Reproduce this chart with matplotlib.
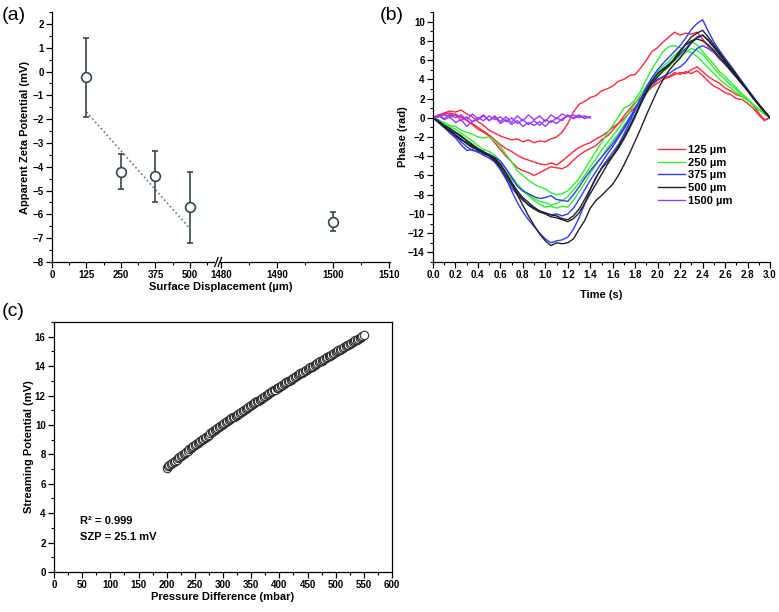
import matplotlib
matplotlib.use("Agg")
import matplotlib.pyplot as plt
from matplotlib.ticker import MultipleLocator, FixedLocator, FormatStrFormatter

# ---------------- data ----------------
# (a) apparent zeta potential vs surface displacement
disp_near = [125, 250, 375, 500]
zeta_near = [-0.25, -4.2, -4.4, -5.7]
zeta_near_err = [1.65, 0.75, 1.07, 1.5]
disp_far = [1500]
zeta_far = [-6.3]
zeta_far_err = [0.4]
fit_x = [125, 500]
fit_y = [-1.7, -6.6]

# (b) phase traces
time = [0.00, 0.05, 0.10, 0.15, 0.20, 0.25, 0.30, 0.35, 0.40, 0.45,
        0.50, 0.55, 0.60, 0.65, 0.70, 0.75, 0.80, 0.85, 0.90, 0.95,
        1.00, 1.05, 1.10, 1.15, 1.20, 1.25, 1.30, 1.35, 1.40, 1.45,
        1.50, 1.55, 1.60, 1.65, 1.70, 1.75, 1.80, 1.85, 1.90, 1.95,
        2.00, 2.05, 2.10, 2.15, 2.20, 2.25, 2.30, 2.35, 2.40, 2.45,
        2.50, 2.55, 2.60, 2.65, 2.70, 2.75, 2.80, 2.85, 2.90, 2.95, 3.00]

phase_125 = [
    [0.0, 0.3, 0.5, 0.7, 0.6, 0.8, 0.4, 0.1, -0.4, -0.8,
     -1.3, -1.6, -1.9, -2.1, -2.3, -2.2, -2.5, -2.3, -2.6, -2.4,
     -2.5, -2.2, -2.0, -1.5, -0.6, 0.6, 1.4, 1.7, 2.1, 2.3,
     2.8, 3.0, 3.3, 3.8, 4.0, 4.4, 4.5, 5.2, 6.0, 6.9,
     7.3, 7.9, 8.4, 8.9, 8.6, 8.8, 8.7, 8.9, 8.2, 7.4,
     6.9, 6.1, 5.6, 4.9, 4.3, 3.5, 2.9, 2.1, 1.3, 0.6, 0.0],
    [0.0, 0.2, 0.4, 0.5, 0.3, 0.1, -0.3, -0.6, -1.0, -1.4,
     -1.8, -2.3, -2.8, -3.2, -3.5, -3.9, -4.2, -4.4, -4.6, -4.8,
     -4.9, -4.7, -4.9, -4.5, -4.0, -3.5, -3.1, -2.8, -2.6, -2.2,
     -1.9, -1.5, -1.0, -0.6, -0.1, 0.5, 1.1, 1.9, 2.6, 3.2,
     3.6, 4.0, 4.2, 4.5, 4.7, 4.6, 5.0, 5.3, 4.8, 4.3,
     3.9, 3.6, 3.1, 2.8, 2.4, 2.2, 1.9, 1.3, 0.5, -0.2, 0.0],
    [0.0, 0.1, 0.3, 0.2, 0.4, 0.0, -0.2, -0.7, -1.2, -1.5,
     -1.9, -2.6, -3.3, -4.0, -4.6, -5.2, -5.5, -5.7, -6.0, -5.7,
     -5.4, -5.1, -5.2, -5.3, -5.0, -4.4, -3.9, -3.5, -3.2, -2.9,
     -2.3, -1.9, -1.3, -0.6, 0.2, 0.9, 1.6, 2.1, 2.7, 3.3,
     3.9, 4.2, 4.3, 4.7, 4.5, 4.8, 4.6, 4.9, 4.4, 3.8,
     3.3, 3.0, 2.6, 2.4, 2.0, 1.9, 1.5, 1.0, 0.3, -0.3, 0.0],
]
phase_250 = [
    [0.0, -0.3, -0.5, -0.8, -0.9, -1.3, -1.5, -1.7, -2.0, -2.1,
     -2.0, -2.4, -3.0, -3.8, -4.6, -5.5, -6.0, -6.5, -6.9, -7.2,
     -7.4, -7.8, -8.0, -7.9, -7.6, -7.0, -6.3, -5.4, -4.4, -3.5,
     -2.6, -1.6, -0.8, 0.1, 1.0, 1.3, 1.9, 2.8, 4.0, 5.1,
     6.0, 6.9, 7.4, 7.5, 7.3, 7.0, 6.8, 6.4, 5.8, 5.2,
     4.6, 4.0, 3.5, 3.1, 2.6, 2.2, 1.8, 1.4, 0.9, 0.4, 0.0],
    [0.0, -0.2, -0.6, -0.9, -1.2, -1.6, -2.0, -2.4, -2.9, -3.3,
     -3.5, -3.9, -4.5, -5.3, -6.1, -6.9, -7.5, -8.0, -8.4, -8.7,
     -8.8, -9.1, -8.9, -8.6, -8.2, -7.5, -6.8, -6.0, -5.1, -4.3,
     -3.4, -2.6, -1.9, -1.1, -0.3, 0.6, 1.5, 2.4, 3.3, 4.1,
     4.8, 5.4, 5.9, 6.5, 7.0, 7.6, 7.9, 7.6, 6.9, 6.2,
     5.6, 4.8, 4.3, 3.7, 3.1, 2.5, 2.0, 1.4, 0.9, 0.5, 0.0],
    [0.0, -0.4, -0.7, -1.1, -1.5, -1.8, -2.3, -2.7, -3.2, -3.6,
     -3.8, -4.4, -5.0, -5.7, -6.4, -7.0, -7.6, -8.1, -8.6, -9.0,
     -9.3, -9.2, -9.4, -9.2, -9.3, -8.6, -7.7, -6.8, -5.8, -4.9,
     -4.1, -3.2, -2.4, -1.7, -0.8, 0.0, 0.8, 1.7, 2.6, 3.4,
     4.2, 4.8, 5.3, 5.9, 6.4, 6.8, 7.2, 7.0, 6.6, 5.9,
     5.2, 4.5, 4.0, 3.4, 2.9, 2.3, 1.8, 1.3, 0.8, 0.4, 0.0],
]
phase_375 = [
    [0.0, -0.5, -1.0, -1.6, -2.1, -2.8, -3.4, -3.3, -3.6, -3.8,
     -3.9, -4.4, -5.2, -6.3, -7.6, -8.8, -9.8, -10.6, -11.3, -12.0,
     -12.6, -13.0, -12.8, -12.7, -12.4, -11.6, -10.4, -9.0, -7.5, -6.3,
     -5.2, -4.4, -3.6, -2.8, -1.7, -0.5, 0.8, 2.0, 3.2, 4.2,
     5.0, 5.7, 6.3, 6.9, 7.5, 8.3, 9.2, 9.8, 10.2, 9.0,
     7.9, 7.0, 6.2, 5.4, 4.6, 3.8, 3.0, 2.2, 1.4, 0.7, 0.0],
    [0.0, -0.3, -0.8, -1.3, -1.6, -2.0, -2.4, -2.9, -3.3, -3.6,
     -3.8, -4.1, -4.5, -5.3, -6.2, -7.1, -7.6, -7.9, -8.2, -8.4,
     -8.3, -8.1, -8.5, -8.6, -8.7, -8.0, -7.2, -6.3, -5.5, -4.8,
     -4.1, -3.4, -2.7, -1.9, -1.0, 0.0, 1.0, 2.0, 2.8, 3.5,
     4.0, 4.3, 4.6, 5.0, 5.3, 5.8, 6.6, 7.2, 7.5, 7.2,
     6.8, 6.2, 5.6, 5.0, 4.3, 3.6, 2.9, 2.1, 1.4, 0.6, 0.0],
    [0.0, -0.4, -0.9, -1.4, -1.9, -2.5, -3.0, -3.4, -3.5, -3.9,
     -4.2, -4.6, -5.4, -6.4, -7.3, -8.0, -8.6, -9.0, -9.4, -9.7,
     -9.9, -10.1, -10.0, -10.2, -10.0, -9.4, -8.5, -7.5, -6.5, -5.6,
     -4.7, -3.8, -3.0, -2.1, -1.2, -0.2, 0.9, 2.0, 3.0, 3.9,
     4.6, 5.1, 5.6, 6.1, 6.6, 7.2, 7.9, 8.4, 8.6, 8.0,
     7.3, 6.6, 5.9, 5.1, 4.4, 3.6, 2.9, 2.2, 1.4, 0.7, 0.0],
]
phase_500 = [
    [0.0, -0.4, -0.8, -1.1, -1.5, -1.9, -2.4, -2.8, -3.2, -3.5,
     -3.9, -4.2, -4.8, -5.7, -6.8, -8.0, -9.1, -10.2, -11.2, -12.1,
     -12.8, -13.3, -13.0, -13.1, -13.0, -12.6, -11.6, -10.7, -9.4, -8.6,
     -8.1, -7.5, -6.9, -6.0, -4.9, -3.7, -2.4, -1.1, 0.3, 1.6,
     2.9, 4.0, 4.9, 5.6, 6.2, 7.0, 7.8, 8.3, 8.6, 8.1,
     7.4, 6.6, 5.8, 5.1, 4.3, 3.6, 2.8, 2.0, 1.3, 0.6, 0.0],
    [0.0, -0.5, -1.0, -1.4, -1.9, -2.3, -2.6, -3.0, -3.4, -3.6,
     -3.9, -4.3, -4.9, -5.8, -6.7, -7.6, -8.3, -8.8, -9.3, -9.7,
     -9.9, -10.1, -10.2, -10.5, -10.6, -10.2, -9.5, -8.5, -7.4, -6.2,
     -5.3, -4.6, -3.9, -3.0, -2.0, -0.9, 0.3, 1.6, 2.8, 3.8,
     4.6, 5.1, 5.5, 6.0, 6.8, 7.7, 8.4, 8.8, 9.1, 8.4,
     7.6, 6.8, 6.0, 5.3, 4.5, 3.7, 2.9, 2.1, 1.4, 0.7, 0.0],
    [0.0, -0.4, -0.9, -1.3, -1.8, -2.2, -2.7, -3.1, -3.3, -3.7,
     -4.0, -4.5, -5.2, -6.1, -7.0, -7.8, -8.5, -9.1, -9.5, -9.8,
     -10.0, -10.3, -10.4, -10.6, -10.8, -10.5, -9.9, -8.9, -7.9, -6.9,
     -5.9, -4.9, -4.0, -3.2, -2.2, -1.1, 0.1, 1.4, 2.6, 3.6,
     4.3, 4.9, 5.4, 6.2, 7.0, 7.6, 8.0, 8.2, 8.0, 7.6,
     7.0, 6.3, 5.6, 4.9, 4.2, 3.5, 2.8, 2.1, 1.4, 0.7, 0.0],
]
time_1500 = time[:29]
phase_1500 = [
    [0.0, 0.3, -0.1, 0.4, 0.0, 0.3, -0.2, 0.4, -0.1, 0.3,
     -0.3, 0.2, -0.4, 0.1, -0.5, 0.2, -0.3, 0.3, -0.2, 0.2,
     -0.4, 0.3, -0.1, 0.4, 0.1, 0.3, 0.0, 0.2, 0.0],
    [0.0, 0.2, -0.2, 0.1, -0.5, -0.2, -0.9, -0.4, -0.2, 0.2,
     -0.3, 0.1, -0.6, -0.2, -0.7, -0.3, -0.9, -0.5, -0.8, -0.4,
     -0.9, -0.3, -0.6, -0.1, 0.2, 0.0, 0.3, -0.1, 0.1],
    [0.0, 0.1, 0.4, 0.0, 0.3, -0.3, 0.1, -0.4, 0.0, -0.3,
     0.2, -0.2, 0.1, -0.4, 0.0, -0.6, -0.2, -0.7, -0.3, -0.8,
     -0.2, -0.5, 0.0, -0.3, 0.3, -0.1, 0.2, 0.1, 0.0],
]
phase_groups = [phase_125, phase_250, phase_375, phase_500, phase_1500]
phase_labels = ["125 \u00b5m", "250 \u00b5m", "375 \u00b5m", "500 \u00b5m", "1500 \u00b5m"]
phase_colors = ["#ff2a3c", "#33ee33", "#2f3cff", "#222222", "#9a3cff"]

# (c) streaming potential vs pressure difference (2.5 mbar steps)
pressure = [200.0, 202.5, 205.0, 207.5, 210.0, 212.5, 215.0, 217.5, 220.0, 222.5,
            225.0, 227.5, 230.0, 232.5, 235.0, 237.5, 240.0, 242.5, 245.0, 247.5,
            250.0, 252.5, 255.0, 257.5, 260.0, 262.5, 265.0, 267.5, 270.0, 272.5,
            275.0, 277.5, 280.0, 282.5, 285.0, 287.5, 290.0, 292.5, 295.0, 297.5,
            300.0, 302.5, 305.0, 307.5, 310.0, 312.5, 315.0, 317.5, 320.0, 322.5,
            325.0, 327.5, 330.0, 332.5, 335.0, 337.5, 340.0, 342.5, 345.0, 347.5,
            350.0, 352.5, 355.0, 357.5, 360.0, 362.5, 365.0, 367.5, 370.0, 372.5,
            375.0, 377.5, 380.0, 382.5, 385.0, 387.5, 390.0, 392.5, 395.0, 397.5,
            400.0, 402.5, 405.0, 407.5, 410.0, 412.5, 415.0, 417.5, 420.0, 422.5,
            425.0, 427.5, 430.0, 432.5, 435.0, 437.5, 440.0, 442.5, 445.0, 447.5,
            450.0, 452.5, 455.0, 457.5, 460.0, 462.5, 465.0, 467.5, 470.0, 472.5,
            475.0, 477.5, 480.0, 482.5, 485.0, 487.5, 490.0, 492.5, 495.0, 497.5,
            500.0, 502.5, 505.0, 507.5, 510.0, 512.5, 515.0, 517.5, 520.0, 522.5,
            525.0, 527.5, 530.0, 532.5, 535.0, 537.5, 540.0, 542.5, 545.0, 547.5,
            550.0]
stream_pot = [7.10, 7.18, 7.26, 7.33, 7.41, 7.49, 7.57, 7.64, 7.72, 7.80,
              7.88, 7.95, 8.03, 8.11, 8.19, 8.26, 8.34, 8.42, 8.50, 8.57,
              8.65, 8.72, 8.79, 8.86, 8.93, 9.00, 9.07, 9.14, 9.21, 9.28,
              9.35, 9.42, 9.49, 9.56, 9.63, 9.70, 9.77, 9.84, 9.91, 9.98,
              10.05, 10.12, 10.18, 10.25, 10.31, 10.38, 10.44, 10.51, 10.57, 10.64,
              10.70, 10.77, 10.83, 10.90, 10.96, 11.03, 11.09, 11.16, 11.22, 11.29,
              11.35, 11.41, 11.48, 11.54, 11.60, 11.66, 11.73, 11.79, 11.85, 11.91,
              11.98, 12.04, 12.10, 12.16, 12.23, 12.29, 12.35, 12.41, 12.48, 12.54,
              12.60, 12.66, 12.72, 12.78, 12.84, 12.90, 12.96, 13.02, 13.08, 13.14,
              13.20, 13.26, 13.32, 13.38, 13.44, 13.50, 13.56, 13.62, 13.68, 13.74,
              13.80, 13.86, 13.92, 13.97, 14.03, 14.09, 14.15, 14.20, 14.26, 14.32,
              14.38, 14.43, 14.49, 14.55, 14.61, 14.66, 14.72, 14.78, 14.84, 14.89,
              14.95, 15.01, 15.07, 15.12, 15.18, 15.24, 15.30, 15.35, 15.41, 15.47,
              15.53, 15.58, 15.64, 15.70, 15.76, 15.81, 15.87, 15.93, 15.99, 16.04,
              16.10]

# ---------------- figure ----------------
plt.rcParams['font.family'] = ['Liberation Sans', 'DejaVu Sans']
plt.rcParams['axes.linewidth'] = 0.9

W, H = 779, 612
fig = plt.figure(figsize=(W / 100, H / 100), dpi=100)


def box(l, t, r, b):
    return [l / W, 1 - b / H, (r - l) / W, (b - t) / H]


def style_ticks(ax, fs=7):
    ax.tick_params(which='major', direction='out', length=4, width=0.9,
                   labelsize=fs, pad=2)
    ax.tick_params(which='minor', direction='out', length=2.2, width=0.8)
    for lbl in ax.get_xticklabels() + ax.get_yticklabels():
        lbl.set_fontweight('bold')


ink = '#37474f'

# ---- panel (a): broken x axis ----
ax1 = fig.add_axes(box(52, 12, 214, 262))
ax2 = fig.add_axes(box(219, 12, 390, 262), sharey=ax1)

ax1.plot(fit_x, fit_y, ls=(0, (1, 1.6)), color='#5a7a80', lw=1.2, zorder=1)
ax1.errorbar(disp_near, zeta_near, yerr=zeta_near_err, fmt='o', ms=7,
             mfc='white', mec=ink, mew=1.2, ecolor=ink, elinewidth=1.2,
             capsize=2.2, capthick=1.0, zorder=3)
ax2.errorbar(disp_far, zeta_far, yerr=zeta_far_err, fmt='o', ms=7,
             mfc='white', mec=ink, mew=1.2, ecolor=ink, elinewidth=1.2,
             capsize=2.2, capthick=1.0, zorder=3)

ax1.set_xlim(0, 587)
ax2.set_xlim(1479.6, 1510.2)
ax1.set_ylim(-8, 2.5)
ax1.xaxis.set_major_locator(FixedLocator([0, 125, 250, 375, 500]))
ax1.xaxis.set_minor_locator(FixedLocator([62.5, 187.5, 312.5, 437.5, 562.5]))
ax2.xaxis.set_major_locator(FixedLocator([1480, 1490, 1500, 1510]))
ax2.xaxis.set_minor_locator(FixedLocator([1485, 1495, 1505]))
ax1.yaxis.set_major_locator(MultipleLocator(1))
ax1.yaxis.set_minor_locator(MultipleLocator(0.5))
for ax in (ax1, ax2):
    ax.spines['top'].set_visible(False)
    ax.spines['right'].set_visible(False)
    ax.set_facecolor('none')
ax2.spines['left'].set_visible(False)
style_ticks(ax1)
style_ticks(ax2)
ax2.tick_params(axis='y', which='both', left=False, labelleft=False)

# break marks
for dx in (0.0, 0.02):
    ax2.plot([-0.025 + dx, -0.005 + dx], [-0.018, 0.018], transform=ax2.transAxes,
             color='black', lw=0.9, clip_on=False)

ax1.set_ylabel('Apparent Zeta Potential (mV)', fontsize=8, fontweight='bold', labelpad=1.5)
fig.text(221 / W, 1 - 287 / H, 'Surface Displacement (\u00b5m)', ha='center', va='center',
         fontsize=8, fontweight='bold')

# ---- panel (b) ----
axb = fig.add_axes(box(433, 12, 770, 262))
for group, lab, col in zip(phase_groups, phase_labels, phase_colors):
    tt = time_1500 if group is phase_1500 else time
    for k, trace in enumerate(group):
        axb.plot(tt, trace, color=col, lw=1.0, label=lab if k == 0 else None)
axb.set_xlim(0, 3.0)
axb.set_ylim(-15, 11)
axb.xaxis.set_major_locator(MultipleLocator(0.2))
axb.xaxis.set_minor_locator(MultipleLocator(0.1))
axb.yaxis.set_major_locator(FixedLocator(list(range(-14, 11, 2))))
axb.yaxis.set_minor_locator(MultipleLocator(1))
axb.xaxis.set_major_formatter(FormatStrFormatter('%.1f'))
axb.spines['top'].set_visible(False)
axb.spines['right'].set_visible(False)
style_ticks(axb)
axb.set_xlabel('Time (s)', fontsize=8, fontweight='bold', labelpad=7)
axb.set_ylabel('Phase (rad)', fontsize=8, fontweight='bold', labelpad=0)
axb.legend(loc='upper left', bbox_to_anchor=(0.645, 0.50), frameon=False,
           handlelength=2.4, handletextpad=0.3, labelspacing=0.25,
           borderpad=0.2, prop={'size': 8, 'weight': 'bold'})

# ---- panel (c) ----
axc = fig.add_axes(box(54, 322, 392, 572))
axc.plot(pressure, stream_pot, 'o', ms=6, mfc='white', mec='#2a2a2a', mew=0.8)
axc.set_xlim(0, 600)
axc.set_ylim(0, 17)
axc.xaxis.set_major_locator(MultipleLocator(50))
axc.xaxis.set_minor_locator(MultipleLocator(25))
axc.yaxis.set_major_locator(MultipleLocator(2))
axc.yaxis.set_minor_locator(MultipleLocator(1))
style_ticks(axc)
axc.set_xlabel('Pressure Difference (mbar)', fontsize=8, fontweight='bold', labelpad=1.5)
axc.set_ylabel('Streaming Potential (mV)', fontsize=8, fontweight='bold', labelpad=0.5)
axc.text(47, 3.45, 'R\u00b2 = 0.999', fontsize=8, fontweight='bold', va='center')
axc.text(47, 2.4, 'SZP = 25.1 mV', fontsize=8, fontweight='bold', va='center')

# panel letters
fig.text(2 / W, 1 - 15 / H, '(a)', fontsize=14, va='center', ha='left')
fig.text(380 / W, 1 - 15 / H, '(b)', fontsize=14, va='center', ha='left')
fig.text(2 / W, 1 - 312 / H, '(c)', fontsize=14, va='center', ha='left')

fig.savefig('out.png', dpi=100)
